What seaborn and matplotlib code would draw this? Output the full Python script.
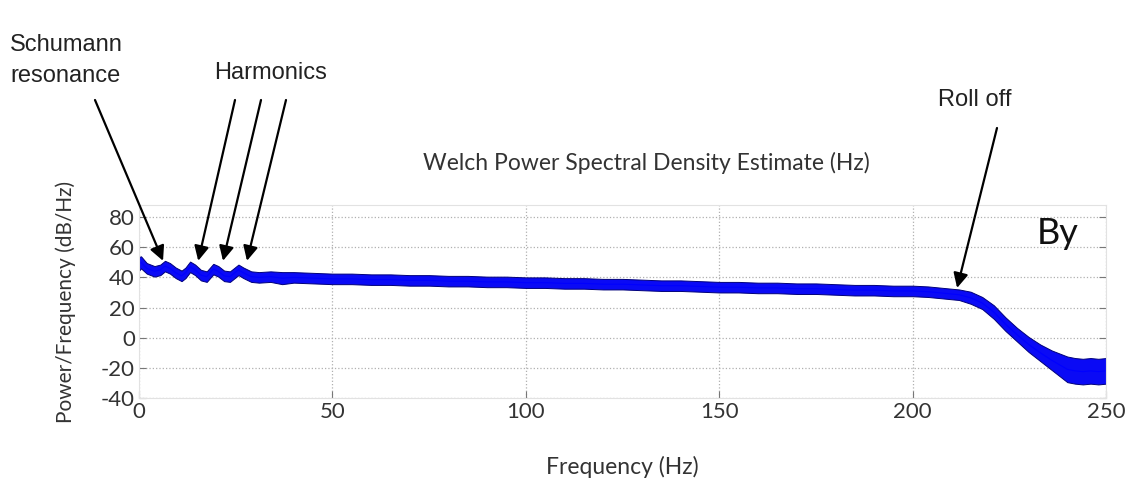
import numpy as np
import pandas as pd
import matplotlib
matplotlib.use("Agg")
import matplotlib.pyplot as plt
import seaborn as sns

# ---- data (Welch PSD, By component) ----
freq_hz = [0, 0.5, 2, 4, 5.5, 6.7, 8, 9.5, 11, 12, 13.2, 14.5, 16, 17.5, 19.2,
           20.5, 22, 23.5, 25.7, 27, 29, 31, 34, 37, 40, 45, 50, 55, 60, 65,
           70, 75, 80, 85, 90, 95, 100, 105, 110, 115, 120, 125, 130, 135, 140,
           145, 150, 155, 160, 165, 170, 175, 180, 185, 190, 195, 200, 204, 208,
           212, 215, 218, 221, 224, 227, 230, 233, 236, 238, 240, 242, 244, 246,
           248, 250]
psd_center_db = [49, 50, 46, 44, 45, 47.5, 46, 43, 41, 43, 47, 45, 41.5, 40.5, 45.5,
                 44, 41, 40.5, 45, 43, 40.5, 40, 40.5, 39.5, 40, 39.5, 39, 39, 38.5, 38.5,
                 38, 38, 37.5, 37.5, 37, 37, 36.5, 36.5, 36, 36, 35.5, 35.5, 35, 34.5, 34.5,
                 34, 33.5, 33.5, 33, 33, 32.5, 32.5, 32, 31.5, 31.5, 31, 31, 30.5, 29.5,
                 28.5, 26.5, 23, 17, 9, 2, -4.5, -10, -15, -18, -21, -22, -22.5, -22,
                 -22.5, -22]
psd_spread_db = [4.5, 4, 3.5, 3.5, 3.5, 3.5, 3.5, 3.5, 3.5, 3.5, 3.5, 3.5, 3.5, 3.5, 3.5,
                 3.5, 3.5, 3.5, 3.5, 3.5, 3.5, 3.5, 3.5, 4, 3.5, 3.5, 3.5, 3.5, 3.5, 3.5,
                 3.5, 3.5, 3.5, 3.5, 3.5, 3.5, 3.5, 3.5, 3.5, 3.5, 3.5, 3.5, 3.5, 3.5, 3.5,
                 3.5, 3.5, 3.5, 3.5, 3.5, 3.5, 3.5, 3.5, 3.5, 3.5, 3.5, 3.5, 3.5, 3.5,
                 3.5, 4, 4, 4.5, 4.5, 4.5, 5, 5.5, 6.5, 7.5, 8.5, 8.5, 8.5, 8.5,
                 8.5, 8.5]
x_ticks = [0, 50, 100, 150, 200, 250]
y_ticks = [-40, -20, 0, 20, 40, 60, 80]
schumann_peak = (6.2, 51)
harmonic_peaks = [(15.3, 51), (21.7, 51), (27.9, 51)]
rolloff_point = (211.5, 33)

# ---- build long table: lower/upper envelope per frequency ----
fr = np.array(freq_hz, dtype=float)
c = np.array(psd_center_db, dtype=float)
s = np.array(psd_spread_db, dtype=float)
df = pd.DataFrame({
    "freq": np.concatenate([fr, fr]),
    "psd": np.concatenate([c - s, c + s]),
})

sns.set_style("white")
plt.rcParams["font.family"] = ["Lato", "DejaVu Sans"]

fig = plt.figure(figsize=(11.36, 4.84), dpi=100)
ax = fig.add_axes([0.1224, 0.1777, 0.8512, 0.3987])

sns.lineplot(data=df, x="freq", y="psd", estimator="mean", errorbar=("pi", 100),
             color="#0000ff", lw=0.8, ax=ax,
             err_kws={"alpha": 1, "facecolor": "#0a0af5", "edgecolor": "#00007a",
                      "linewidth": 0.7})

ax.set_xlim(0, 250)
ax.set_ylim(-40, 88)
ax.set_xticks(x_ticks)
ax.set_yticks(y_ticks)
ax.set_xticklabels([str(v) for v in x_ticks])
ax.set_yticklabels([str(v) for v in y_ticks])
ax.grid(True, linestyle=":", color="#b0b0b0", linewidth=0.9)
ax.set_axisbelow(True)
for sp in ax.spines.values():
    sp.set_color("#e2e2e2")
    sp.set_linewidth(0.8)
ax.tick_params(axis="both", direction="in", length=5, color="#777777",
               labelsize=16, labelcolor="#333333", right=True, left=True,
               bottom=True, top=False, pad=3)

ax.set_xlabel("Frequency (Hz)", fontsize=16.5, color="#333333", labelpad=24)
ax.set_ylabel("Power/Frequency (dB/Hz)", fontsize=15, color="#333333", labelpad=18)
fig.text(646 / 1136, 1 - 163 / 484, "Welch Power Spectral Density Estimate (Hz)",
         fontsize=16.5, color="#333333", ha="center", va="center")

ax.text(0.972, 0.94, "By", transform=ax.transAxes, fontsize=26, color="#111111",
        ha="right", va="top")

# annotations (text in figure pixels, arrow tips on data)
ann_font = dict(family=["Liberation Sans", "DejaVu Sans"], fontsize=17, color="#222222")
fig.text(10 / 1136, 1 - 34 / 484, "Schumann\nresonance", ha="left", va="top",
         linespacing=1.5, **ann_font)
fig.text(271 / 1136, 1 - 73 / 484, "Harmonics", ha="center", va="center", **ann_font)
fig.text(975 / 1136, 1 - 100 / 484, "Roll off", ha="center", va="center", **ann_font)

arrow = dict(arrowstyle="-|>", color="black", lw=1.6, mutation_scale=22,
             shrinkA=0, shrinkB=0)
ax.annotate("", xy=schumann_peak, xycoords="data",
            xytext=(95 / 1136, 1 - 100 / 484), textcoords="figure fraction",
            arrowprops=arrow)
for (px, py), tx in zip(harmonic_peaks, [235, 261, 286]):
    ax.annotate("", xy=(px, py), xycoords="data",
                xytext=(tx / 1136, 1 - 100 / 484), textcoords="figure fraction",
                arrowprops=arrow)
ax.annotate("", xy=rolloff_point, xycoords="data",
            xytext=(997 / 1136, 1 - 128 / 484), textcoords="figure fraction",
            arrowprops=arrow)

fig.savefig("out.png", dpi=100, facecolor="white")
